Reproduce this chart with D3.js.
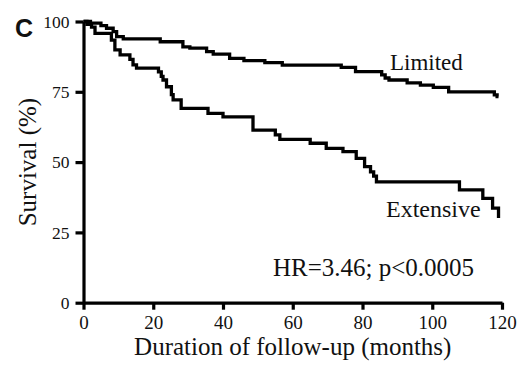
<!DOCTYPE html>
<meta charset="utf-8">
<script src="https://d3js.org/d3.v7.min.js"></script>
<style>
  body { margin: 0; background: #fff; }
  text { font-family: "Liberation Serif", "Times New Roman", serif; fill: #111; }
</style>
<svg id="chart" width="522" height="365"></svg>
<script>

// Kaplan-Meier steps (months, survival %)
var limitedTime = [0, 2, 5, 6.6, 8.5, 9.5, 11.4, 22, 28.5, 30.5, 35.3, 37.2, 41.9, 46, 52, 57, 73.9, 78, 85.5, 86.5, 87.6, 92.8, 96.6, 100.3, 104.7, 117.8, 118.6, 119];
var limitedSurv = [100, 99.4, 98.5, 97.6, 96.4, 94.6, 93.8, 92.8, 91, 90.5, 89.3, 88.4, 86.9, 86.1, 85.4, 84.5, 83.7, 82.2, 81, 79.9, 79.2, 78.2, 77.4, 76.6, 75, 73.9, 73.3, 73.3];

var extensiveTime = [0, 1, 2.3, 3.3, 8, 9, 10.5, 13.3, 14.2, 15.2, 21.5, 22.3, 22.8, 23.8, 25.2, 25.7, 28, 35.7, 40, 48.6, 55, 56.3, 65, 69.6, 74.4, 78.2, 80.6, 82.3, 83.2, 84, 107.8, 114.5, 117.3, 119];
var extensiveSurv = [100, 99, 98, 95.8, 93.4, 89.9, 88.1, 86.5, 84.6, 83.4, 82.1, 80.5, 79.2, 76.8, 74, 72.1, 69.1, 67.3, 66.1, 61.4, 59.7, 58.1, 56.7, 54.9, 53.7, 51.3, 48.4, 46.5, 45, 43, 40.1, 37.1, 33.6, 30.1];

var xTicks = [0, 20, 40, 60, 80, 100, 120];
var yTicks = [0, 25, 50, 75, 100];

var svg = d3.select("#chart");

var x = d3.scaleLinear().domain([0, 120]).range([83.5, 502]);
var y = d3.scaleLinear().domain([0, 100]).range([302.7, 21.5]);

// axes
var xAxis = svg.append("g")
  .attr("transform", "translate(0," + y(0) + ")")
  .call(d3.axisBottom(x).tickValues(xTicks).tickSize(7).tickPadding(6).tickSizeOuter(0));

var yAxis = svg.append("g")
  .attr("transform", "translate(" + x(0) + ",0)")
  .call(d3.axisLeft(y).tickValues(yTicks).tickSize(8).tickPadding(6).tickSizeOuter(0));

[xAxis, yAxis].forEach(function(a) {
  a.select(".domain").attr("stroke", "#000").attr("stroke-width", 3.2);
  a.selectAll(".tick line").attr("stroke", "#000").attr("stroke-width", 3.2);
  a.selectAll(".tick text").attr("fill", "#111")
    .style("font-family", "Liberation Serif, Times New Roman, serif");
});
xAxis.selectAll(".tick text").style("font-size", "19px");
yAxis.selectAll(".tick text").style("font-size", "17.5px");

// survival curves
var line = d3.line()
  .x(function(d) { return x(d[0]); })
  .y(function(d) { return y(d[1]); })
  .curve(d3.curveStepAfter);

var limited = limitedTime.map(function(t, i) { return [t, limitedSurv[i]]; });
var extensive = extensiveTime.map(function(t, i) { return [t, extensiveSurv[i]]; });

svg.selectAll(".km")
  .data([limited, extensive])
  .enter()
  .append("path")
    .attr("class", "km")
    .attr("d", line)
    .attr("fill", "none")
    .attr("stroke", "#000")
    .attr("stroke-width", 3.3)
    .attr("stroke-linejoin", "miter");

// labels
svg.append("text").attr("x", 390).attr("y", 70).style("font-size", "23px").text("Limited");
svg.append("text").attr("x", 386).attr("y", 217).style("font-size", "24px").text("Extensive");
svg.append("text").attr("x", 273).attr("y", 276).style("font-size", "25px").text("HR=3.46; p<0.0005");

svg.append("text")
  .attr("x", (x(0) + x(120)) / 2)
  .attr("y", 355)
  .attr("text-anchor", "middle")
  .style("font-size", "25px")
  .text("Duration of follow-up (months)");

svg.append("text")
  .attr("transform", "translate(36," + (y(0) + y(100)) / 2 + ") rotate(-90)")
  .attr("text-anchor", "middle")
  .style("font-size", "25px")
  .text("Survival (%)");

svg.append("text")
  .attr("x", 15)
  .attr("y", 37)
  .style("font-family", "Liberation Sans, Arial, sans-serif")
  .style("font-weight", "bold")
  .style("font-size", "25px")
  .text("C");

</script>
